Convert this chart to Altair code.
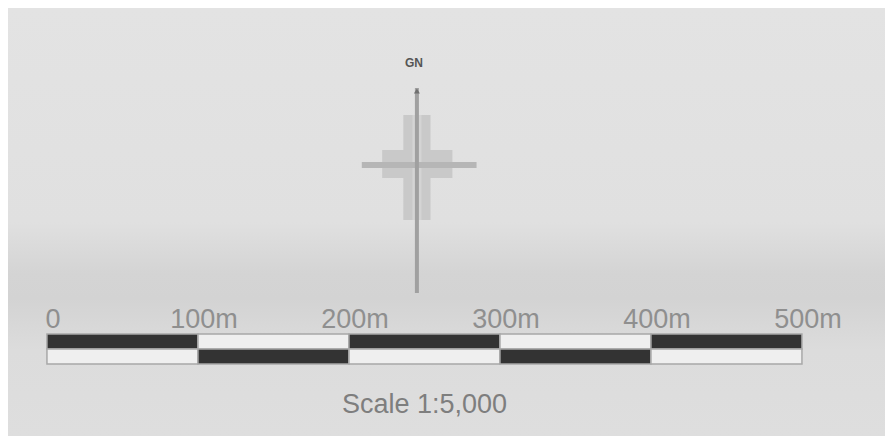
import altair as alt
import pandas as pd

# ---- data -------------------------------------------------------------
ticks_m = [0, 100, 200, 300, 400, 500]
tick_labels = ["0", "100m", "200m", "300m", "400m", "500m"]
scale_text = "Scale 1:5,000"
north_text = "GN"

# ---- layout (chart pixels / metres) -----------------------------------
W, H = 877, 428
X_DOMAIN = [-25.8, 555.0]          # metres across the chart width
BAR_TOP, BAR_MID, BAR_BOT = 326, 341, 356
LABEL_Y = 320
TITLE_Y = 405
NORTH_X = 245                        # metres
FONT = "Liberation Sans"

xs = alt.Scale(domain=X_DOMAIN, nice=False, zero=False)
ys = alt.Scale(domain=[0, H], reverse=True, nice=False, zero=False)
XE = alt.X("x:Q", scale=xs, axis=None)
YE = alt.Y("y:Q", scale=ys, axis=None)

# soft paper-like background
bg = alt.Chart(pd.DataFrame({"x": [X_DOMAIN[0]], "x2": [X_DOMAIN[1]], "y": [0], "y2": [H]})).mark_rect(
    fill=alt.Gradient(
        gradient="linear", x1=0, x2=0, y1=0, y2=1,
        stops=[
            alt.GradientStop(color="#e3e3e3", offset=0),
            alt.GradientStop(color="#e0e0e0", offset=0.5),
            alt.GradientStop(color="#d4d4d4", offset=0.62),
            alt.GradientStop(color="#d3d3d3", offset=0.68),
            alt.GradientStop(color="#dcdcdc", offset=0.8),
            alt.GradientStop(color="#dedede", offset=1),
        ],
    )
).encode(x=XE, x2="x2:Q", y=YE, y2="y2:Q")

# scale bar segments
rows = []
for i in range(len(ticks_m) - 1):
    for r, (y1, y2) in enumerate([(BAR_TOP, BAR_MID), (BAR_MID, BAR_BOT)]):
        rows.append(dict(x=ticks_m[i], x2=ticks_m[i + 1], y=y1, y2=y2,
                         shade="dark" if (i + r) % 2 == 0 else "light"))
seg_df = pd.DataFrame(rows)

bars = alt.Chart(seg_df).mark_rect(stroke="#a8a8a8", strokeWidth=1.5).encode(
    x=XE, x2="x2:Q", y=YE, y2="y2:Q",
    color=alt.Color("shade:N", scale=alt.Scale(domain=["dark", "light"],
                                               range=["#333333", "#efefef"]), legend=None),
)

lab_df = pd.DataFrame({"x": ticks_m, "label": tick_labels, "y": [LABEL_Y] * len(ticks_m)})
labels = alt.Chart(lab_df).mark_text(
    dx=6, baseline="alphabetic", align="center", fontSize=27, font=FONT, color="#8f8f8f"
).encode(x=XE, y=YE, text="label:N")

title_df = pd.DataFrame({"x": [sum(ticks_m) / len(ticks_m)], "y": [TITLE_Y], "t": [scale_text]})
title = alt.Chart(title_df).mark_text(
    baseline="alphabetic", align="center", fontSize=27, font=FONT, color="#7e7e7e"
).encode(x=XE, y=YE, text="t:N")

# north arrow (metres offsets around NORTH_X, pixel rows)
cross_df = pd.DataFrame([
    dict(x=NORTH_X - 9, x2=NORTH_X + 9, y=107, y2=212),
    dict(x=NORTH_X - 23, x2=NORTH_X + 23.5, y=142, y2=170),
])
cross = alt.Chart(cross_df).mark_rect(fill="#c9c9c9").encode(
    x=XE, x2="x2:Q", y=YE, y2="y2:Q")

halo_df = pd.DataFrame([dict(x=NORTH_X, y=107, y2=212)])
halo = alt.Chart(halo_df).mark_rule(color="#d4d4d4", strokeWidth=9).encode(
    x=XE, y=YE, y2="y2:Q")

shaft_df = pd.DataFrame([dict(x=NORTH_X, y=80, y2=285)])
shaft = alt.Chart(shaft_df).mark_rule(color="#a0a0a0", strokeWidth=4).encode(
    x=XE, y=YE, y2="y2:Q")

hline_df = pd.DataFrame([dict(x=NORTH_X - 36.5, x2=NORTH_X + 39.5, y=157)])
hline = alt.Chart(hline_df).mark_rule(color="#b6b6b6", strokeWidth=6).encode(
    x=XE, x2="x2:Q", y=YE)

tip_df = pd.DataFrame([dict(x=NORTH_X, y=83)])
tip = alt.Chart(tip_df).mark_point(
    shape="triangle-up", filled=True, size=35, color="#707070", opacity=1
).encode(x=XE, y=YE)

gn_df = pd.DataFrame([dict(x=NORTH_X - 2, y=59, t=north_text)])
gn = alt.Chart(gn_df).mark_text(
    baseline="alphabetic", align="center", fontSize=12, fontWeight="bold",
    font=FONT, color="#555555"
).encode(x=XE, y=YE, text="t:N")

chart = alt.layer(bg, cross, halo, hline, shaft, tip, gn, bars, labels, title).properties(
    width=W, height=H, autosize=alt.AutoSizeParams(type="none"), padding=0,
    background="#dedede"
).configure_view(strokeWidth=0)

chart.save("out.html", embed_options={"renderer": "svg", "actions": False})
